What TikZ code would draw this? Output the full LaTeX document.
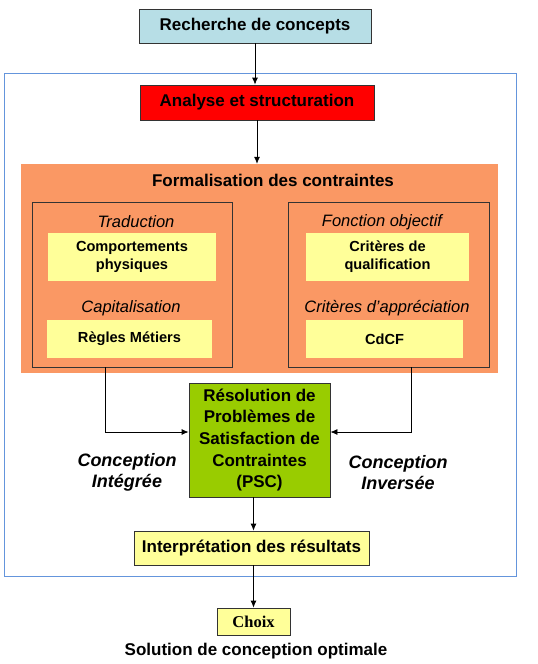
\documentclass[tikz,border=0pt]{standalone}
\usepackage{fontspec}
\setmainfont{Liberation Sans}
\newfontfamily\choixfont{Liberation Serif}
\usepackage{tikz}
\usetikzlibrary{positioning,arrows.meta,calc}
\usepackage{xcolor}
\definecolor{cyanfill}{RGB}{183,222,230}
\definecolor{orangefill}{RGB}{250,152,100}
\definecolor{yellowfill}{RGB}{255,255,153}
\definecolor{greenfill}{RGB}{153,204,0}
\definecolor{frameblue}{RGB}{100,149,220}

\begin{document}
\begin{tikzpicture}[
    x=1pt, y=-1pt,
    mainbox/.style={rectangle, draw=black!80, line width=0.8pt, inner sep=0pt, align=center, font=\fontsize{17}{21.7}\selectfont\bfseries},
    softbox/.style={rectangle, fill=yellowfill, inner sep=0pt, align=center, font=\fontsize{14.6}{18}\selectfont\bfseries},
    groupbox/.style={rectangle, draw=black!80, line width=0.6pt, fill=orangefill, inner sep=0pt},
    tag/.style={font=\fontsize{16.5}{20}\selectfont\itshape},
    modelabel/.style={align=center, font=\fontsize{18}{21}\selectfont\bfseries\itshape},
    arrow/.style={-{Latex[length=7pt,width=6pt]}, line width=0.8pt}
]
\useasboundingbox (0,0) rectangle (538,664);

% outer frame
\node[rectangle, draw=frameblue, line width=1pt, minimum width=512pt, minimum height=503pt, inner sep=0pt] (frame) at (260,324.5) {};

\node[mainbox, fill=cyanfill, minimum width=232pt, minimum height=34pt] (rech) at (255,26) {Recherche de concepts};
\node[mainbox, fill=red, minimum width=234pt, minimum height=35pt] (analyse) at (257,102.5) {Analyse et structuration};

% formalisation block
\node[rectangle, fill=orangefill, minimum width=477pt, minimum height=209pt, inner sep=0pt] (formal) at (259.5,268.5) {};
\node[font=\fontsize{17}{21}\selectfont\bfseries] (formaltitle) at (273,180) {Formalisation des contraintes};
\node[groupbox, minimum width=200pt, minimum height=165pt] (leftgrp) at (132,284.5) {};
\node[groupbox, minimum width=201pt, minimum height=165pt] (rightgrp) at (388.5,284.5) {};

\node[tag] (trad) at (136,222) {Traduction};
\node[softbox, minimum width=168pt, minimum height=48pt] (comport) at (132,257) {Comportements\\physiques};
\node[tag] (capit) at (131,308) {Capitalisation};
\node[softbox, minimum width=165pt, minimum height=38pt] (regles) at (129.5,339) {Règles Métiers};

\node[tag] (fonct) at (382,222) {Fonction objectif};
\node[softbox, minimum width=163pt, minimum height=48pt] (qualif) at (387.5,257) {Critères de\\qualification};
\node[tag] (apprec) at (387,308) {Critères d’appréciation};
\node[softbox, minimum width=157pt, minimum height=38pt] (cdcf) at (384.5,339) {CdCF};

% resolution
\node[mainbox, fill=greenfill, minimum width=141pt, minimum height=114pt] (psc) at (259.5,440) {Résolution de\\Problèmes de\\Satisfaction de\\Contraintes\\(PSC)};
\node[modelabel] (integ) at (127,472) {Conception\\Intégrée};
\node[modelabel] (invers) at (398,473) {Conception\\Inversée};

\node[mainbox, fill=yellowfill, minimum width=235pt, minimum height=34pt] (interp) at (251.5,548) {Interprétation des résultats};
\node[mainbox, fill=yellowfill, minimum width=73pt, minimum height=27pt, font=\fontsize{16.5}{20}\selectfont\choixfont\bfseries] (choix) at (253.5,621.5) {Choix};
\node[font=\fontsize{17}{21}\selectfont\bfseries] (solution) at (256,651) {Solution de conception optimale};

\draw[arrow] (rech.south) -- (rech.south |- analyse.north);
\draw[arrow] (analyse.south) -- (analyse.south |- formal.north);
\draw[arrow] ($(leftgrp.south west)!0.365!(leftgrp.south east)$) |- ([yshift=8pt]psc.west);
\draw[arrow] ($(rightgrp.south west)!0.612!(rightgrp.south east)$) |- ([yshift=8pt]psc.east);
\draw[arrow] (psc.south -| choix) -- (interp.north -| choix);
\draw[arrow] (interp.south -| choix) -- (choix.north);
\end{tikzpicture}
\end{document}
